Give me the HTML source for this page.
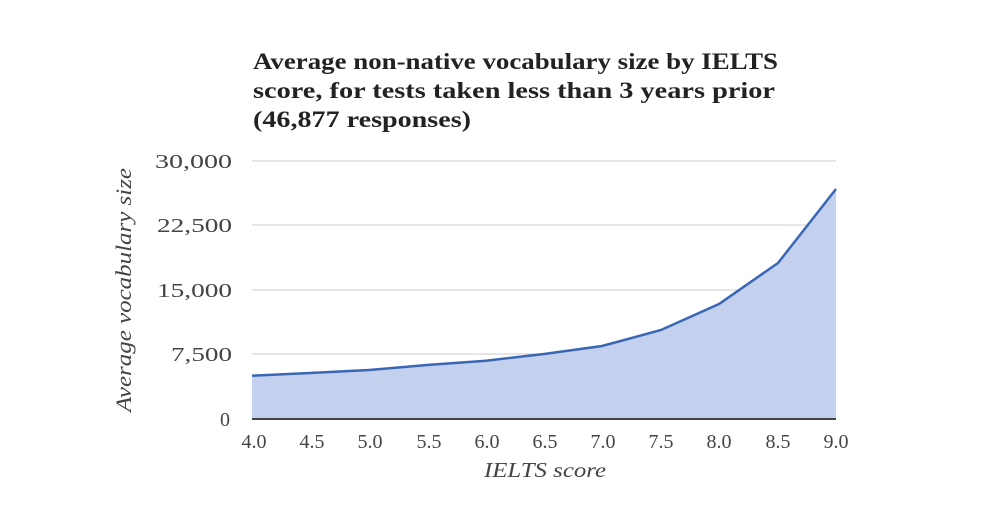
<!DOCTYPE html>
<html><head><meta charset="utf-8"><style>
html,body{margin:0;padding:0;background:#fff;}
body{width:1000px;height:514px;overflow:hidden;}
</style></head><body>
<svg width="1000" height="514" xmlns="http://www.w3.org/2000/svg" font-family="'Liberation Serif',serif">
<text x="253" y="69" font-size="23" font-weight="bold" fill="#222" textLength="525" lengthAdjust="spacingAndGlyphs">Average non-native vocabulary size by IELTS</text>
<text x="253" y="98" font-size="23" font-weight="bold" fill="#222" textLength="522" lengthAdjust="spacingAndGlyphs">score, for tests taken less than 3 years prior</text>
<text x="253" y="127" font-size="23" font-weight="bold" fill="#222" textLength="218" lengthAdjust="spacingAndGlyphs">(46,877 responses)</text>
<g stroke="#ccc" stroke-width="1">
<line x1="252" y1="161" x2="836" y2="161"/>
<line x1="252" y1="225" x2="836" y2="225"/>
<line x1="252" y1="290" x2="836" y2="290"/>
<line x1="252" y1="354" x2="836" y2="354"/>
</g>
<polygon fill="#c3d0ee" points="252,419 252,375.7 310,373 369,370 427,365 486,360.7 544,354 602,346 661,330 719,304 778,263 836,189 836,419"/>
<polyline fill="none" stroke="#3a67b5" stroke-width="2.5" points="252,375.7 310,373 369,370 427,365 486,360.7 544,354 602,346 661,330 719,304 778,263 836,189"/>
<line x1="252" y1="419" x2="836" y2="419" stroke="#444" stroke-width="2"/>
<g font-size="20" fill="#444">
<text x="155" y="168" textLength="77" lengthAdjust="spacingAndGlyphs">30,000</text>
<text x="157" y="232" textLength="75" lengthAdjust="spacingAndGlyphs">22,500</text>
<text x="157" y="297" textLength="75" lengthAdjust="spacingAndGlyphs">15,000</text>
<text x="171" y="361" textLength="61" lengthAdjust="spacingAndGlyphs">7,500</text>
<text x="220" y="426">0</text>
</g>
<g font-size="20" fill="#444" text-anchor="middle">
<text x="254" y="448">4.0</text><text x="312" y="448">4.5</text><text x="370" y="448">5.0</text>
<text x="429" y="448">5.5</text><text x="487" y="448">6.0</text><text x="545" y="448">6.5</text>
<text x="603" y="448">7.0</text><text x="661" y="448">7.5</text><text x="719" y="448">8.0</text>
<text x="778" y="448">8.5</text><text x="836" y="448">9.0</text>
</g>
<text x="484" y="477" font-size="21" font-style="italic" fill="#444" textLength="122" lengthAdjust="spacingAndGlyphs">IELTS score</text>
<text transform="translate(131,412) rotate(-90)" font-size="22" font-style="italic" fill="#444" textLength="244" lengthAdjust="spacingAndGlyphs">Average vocabulary size</text>
</svg>
</body></html>
